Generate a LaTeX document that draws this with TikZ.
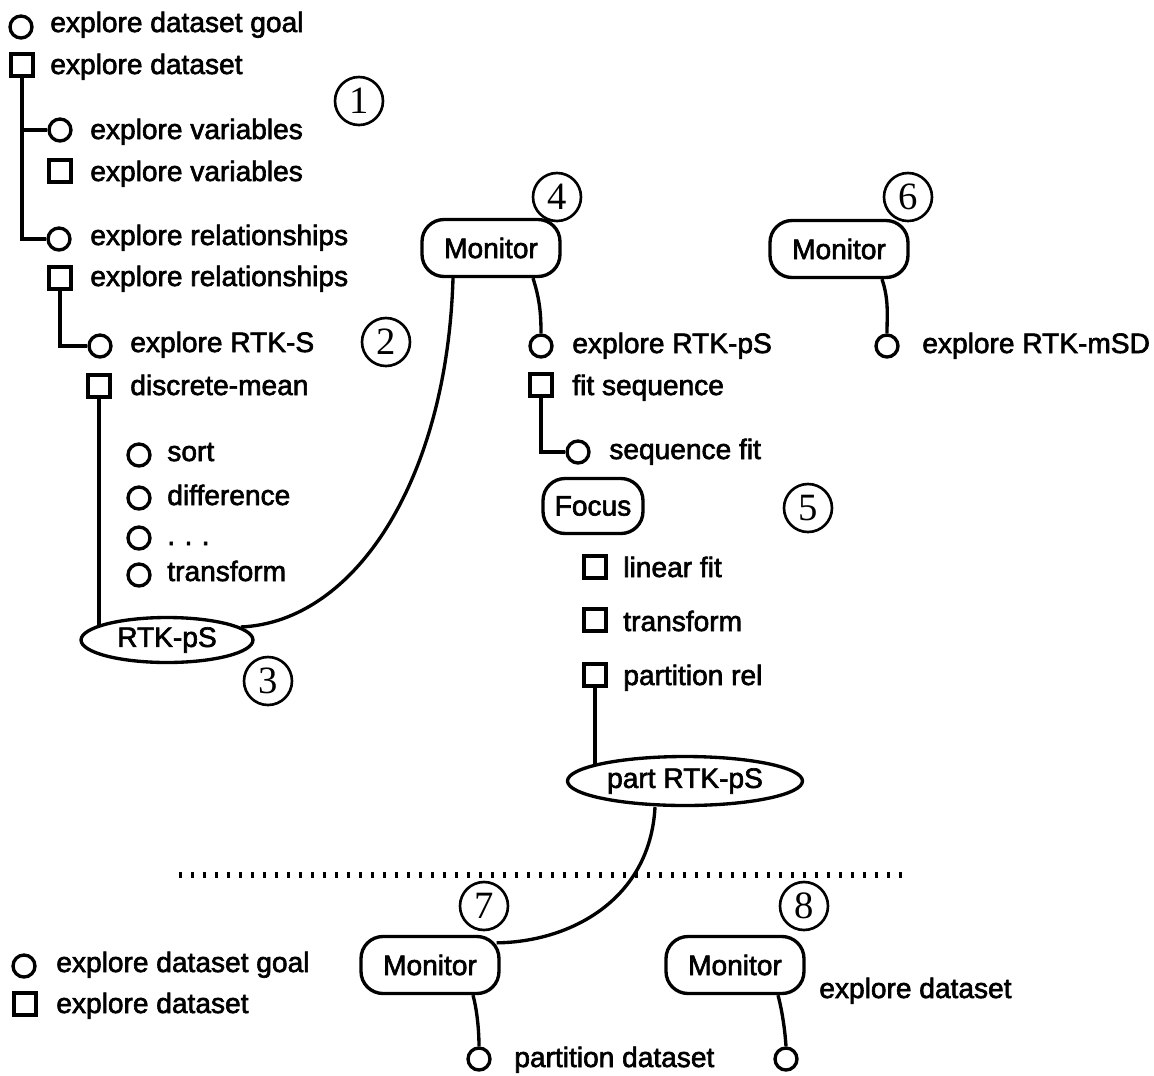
\documentclass[tikz,border=0pt]{standalone}
\usepackage{fontspec}
\setmainfont{Liberation Sans}[FakeBold=2.2]
\newfontfamily\numfont{Liberation Serif}
\usetikzlibrary{shapes.geometric,backgrounds}
\tikzset{
  every node/.style={font=\fontsize{16}{19}\selectfont},
  gl/.style={circle, draw, line width=1.9pt, minimum size=0.44cm, inner sep=0pt, fill=white},
  sb/.style={rectangle, draw, line width=1.9pt, minimum size=0.44cm, inner sep=0pt, fill=white},
  lb/.style={anchor=base west, inner sep=0pt},
  num/.style={circle, draw, line width=1.5pt, minimum size=0.96cm, inner sep=0pt, font=\numfont\fontsize{22}{24}\selectfont},
  mon/.style={draw, rounded corners=0.44cm, line width=1.9pt, minimum width=2.76cm, minimum height=1.14cm, inner sep=0pt, fill=white},
  ell/.style={ellipse, draw, line width=1.9pt, inner sep=0pt, fill=white},
  conn/.style={line width=1.9pt},
  dotline/.style={line width=0.12cm, dash pattern=on 0.06cm off 0.18cm},
}
\begin{document}
\begin{tikzpicture}[x=0.02cm,y=-0.02cm]
\useasboundingbox (0,0) rectangle (1154,1076);
% left tree
\node[gl] (g1) at (21,27) {};
\node[lb] (t1) at (50,32) {explore dataset goal};
\node[sb] (s1) at (22,65) {};
\node[lb] (t2) at (50,74) {explore dataset};
\node[num] (n1) at (359,101) {1};
\node[gl] (g2) at (60,130) {};
\node[lb] (t3) at (90,139) {explore variables};
\node[sb] (s2) at (60,171) {};
\node[lb] (t4) at (90,181) {explore variables};
\node[gl] (g3) at (59,239) {};
\node[lb] (t5) at (90,245) {explore relationships};
\node[sb] (s3) at (60,278) {};
\node[lb] (t6) at (90,286) {explore relationships};
\node[gl] (g4) at (100,346) {};
\node[lb] (t7) at (130,352) {explore RTK-S};
\node[num] (n2) at (386,342) {2};
\node[sb] (s4) at (99,386) {};
\node[lb] (t8) at (130,395) {discrete-mean};
\node[gl] (g5) at (139,455) {};
\node[lb] (t9) at (167,461) {sort};
\node[gl] (g6) at (139,498) {};
\node[lb] (t10) at (167,505) {difference};
\node[gl] (g7) at (139,538) {};
\node[lb] (t11) at (167,545) {.\,\,.\,\,.};
\node[gl] (g8) at (139,575) {};
\node[lb] (t12) at (167,581) {transform};
\node[ell, minimum width=3.44cm, minimum height=0.9cm] (rtk) at (167,640) {RTK-pS};
\node[num] (n3) at (268,681) {3};
% middle
\node[mon] (m4) at (491,248) {Monitor};
\node[num] (n4) at (557,197) {4};
\node[gl] (g9) at (541,346) {};
\node[lb] (t13) at (572,353) {explore RTK-pS};
\node[sb] (s5) at (541,385) {};
\node[lb] (t14) at (572,395) {fit sequence};
\node[gl] (g10) at (578,452) {};
\node[lb] (t15) at (609,459) {sequence fit};
\node[mon, minimum width=2cm, minimum height=1.1cm] (focus) at (593,506) {Focus};
\node[num] (n5) at (808,508) {5};
\node[sb] (s6) at (595,567) {};
\node[lb] (t16) at (623,577) {linear fit};
\node[sb] (s7) at (595,620) {};
\node[lb] (t17) at (623,631) {transform};
\node[sb] (s8) at (595,675) {};
\node[lb] (t18) at (623,685) {partition rel};
\node[ell, minimum width=4.7cm, minimum height=0.98cm] (pe) at (685,781) {part RTK-pS};
% right
\node[mon] (m6) at (839,249) {Monitor};
\node[num] (n6) at (908,197) {6};
\node[gl] (g11) at (887,346) {};
\node[lb] (t19) at (922,353) {explore RTK-mSD};
% bottom
\node[num] (n7) at (484,906) {7};
\node[mon] (m7) at (430,965) {Monitor};
\node[gl] (g12) at (479,1059) {};
\node[lb] (t20) at (514,1067) {partition dataset};
\node[num] (n8) at (804,906) {8};
\node[mon] (m8) at (735,965) {Monitor};
\node[gl] (g13) at (786,1059) {};
\node[lb] (t21) at (819,998) {explore dataset};
% legend
\node[gl] (g14) at (24,966) {};
\node[lb] (t22) at (56,972) {explore dataset goal};
\node[sb] (s9) at (25,1004) {};
\node[lb] (t23) at (56,1013) {explore dataset};
% separator
\coordinate (dl) at (179,875);
\coordinate (dr) at (910,875);
\draw[dotline] (dl) -- (dr);
% connectors
\begin{pgfonlayer}{background}
\draw[conn] (s1.south) -- (s1.south |- g3.west) -- (g3.west);
\draw[conn] (s1.south |- g2.west) -- (g2.west);
\draw[conn] (s3.south) -- (s3.south |- g4.west) -- (g4.west);
\draw[conn] (s4.south) -- (s4.south |- rtk.center);
\draw[conn] ([xshift=-0.76cm]m4.south) .. controls (447,480) and (355,622) .. (rtk.10);
\draw[conn] ([xshift=0.84cm]m4.south) .. controls (540,300) and (541,315) .. (g9.north);
\draw[conn] (s5.south) -- (s5.south |- g10.west) -- (g10.west);
\draw[conn] (s8.south) -- (s8.south |- pe.center);
\draw[conn] ([xshift=-0.6cm]pe.south) .. controls (650,900) and (570,942) .. ([xshift=-0.08cm,yshift=-0.16cm]m7.north east);
\draw[conn] ([xshift=0.86cm]m6.south) .. controls (889,300) and (887,315) .. (g11.north);
\draw[conn] ([xshift=0.86cm]m7.south) .. controls (477,1010) and (479,1030) .. (g12.north);
\draw[conn] ([xshift=0.86cm]m8.south) .. controls (782,1010) and (785,1030) .. (g13.north);
\end{pgfonlayer}
\end{tikzpicture}
\end{document}
